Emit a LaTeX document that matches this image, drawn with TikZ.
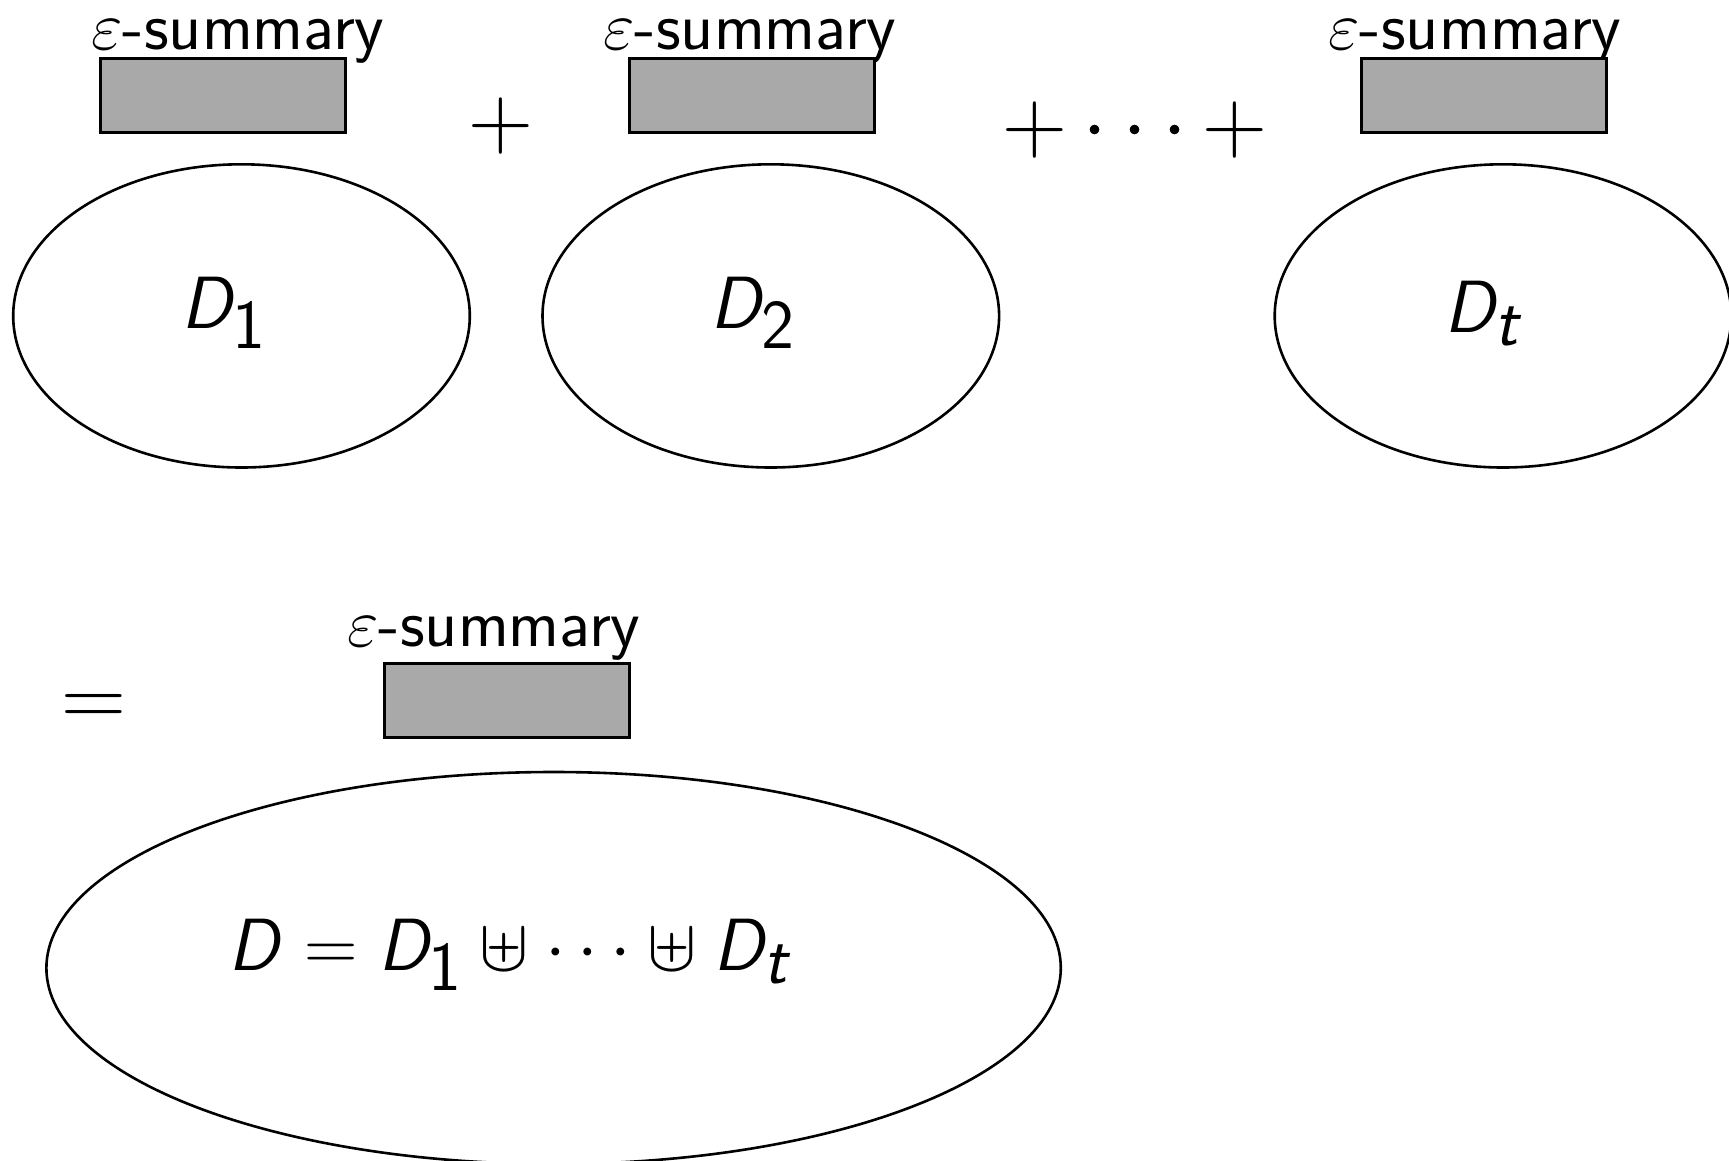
\RequirePackage{fix-cm}
\documentclass[tikz,border=0pt]{standalone}
\usepackage{amsmath}
\usetikzlibrary{shapes.geometric}
\DeclareMathAlphabet{\mathsfit}{OT1}{cmss}{m}{sl}
\DeclareMathAlphabet{\mathsfup}{OT1}{cmss}{m}{n}
\DeclareMathSizes{37}{37}{35}{30}
\newcommand{\sD}{\mathsfit{D}}
\definecolor{boxgray}{RGB}{169,169,169}
\tikzset{
  sumbox/.style={draw=black, line width=1.4pt, fill=boxgray, inner sep=0pt, minimum width=122.4pt, minimum height=37pt},
  setell/.style={draw=black, line width=1.3pt, ellipse, inner sep=0pt},
  sumlabel/.style={anchor=base, inner sep=0pt, text height=1.3ex, font=\fontsize{34.2}{40}\selectfont\sffamily},
  mathtxt/.style={inner sep=0pt, font=\fontsize{37}{44}\selectfont},
  optxt/.style={inner sep=0pt, font=\fontsize{45}{54}\selectfont}
}
\begin{document}
\begin{tikzpicture}[x=0.5pt,y=-0.5pt]
\useasboundingbox (0,0) rectangle (1729,1161);
\clip (0,0) rectangle (1729,1161);
% top row
\node[sumlabel] (l1) at (238,50) {$\varepsilon$-summary};
\node[sumbox] (b1) at (222.7,95.3) {};
\node[setell, minimum width=228.3pt, minimum height=151.6pt] (e1) at (241.5,315.9) {};
\node[mathtxt] (d1) at (224,313) {$\sD_{\mathsfup{1}}$};
\node[optxt] (p1) at (500.6,125.7) {$+$};

\node[sumlabel] (l2) at (750,50) {$\varepsilon$-summary};
\node[sumbox] (b2) at (752,95.3) {};
\node[setell, minimum width=228.3pt, minimum height=151.6pt] (e2) at (770.8,315.9) {};
\node[mathtxt] (d2) at (753,313) {$\sD_{\mathsfup{2}}$};
\node[optxt] (p2) at (1135,130) {$+\cdots+$};

\node[sumlabel] (l3) at (1475,50) {$\varepsilon$-summary};
\node[sumbox] (b3) at (1484.2,95.3) {};
\node[setell, minimum width=228.3pt, minimum height=151.6pt] (e3) at (1503,315.9) {};
\node[mathtxt] (d3) at (1484,313) {$\sD_{\mathsfit{t}}$};

% bottom
\node[optxt] (eq) at (93.7,710) {$=$};
\node[sumlabel] (l4) at (494,646) {$\varepsilon$-summary};
\node[sumbox] (b4) at (507.2,700.7) {};
\node[setell, minimum width=507.2pt, minimum height=196pt] (e4) at (553.6,968) {};
\node[mathtxt] (f) at (511,955) {$\sD = \sD_{\mathsfup{1}} \uplus \cdots \uplus \sD_{\mathsfit{t}}$};
\end{tikzpicture}
\end{document}
